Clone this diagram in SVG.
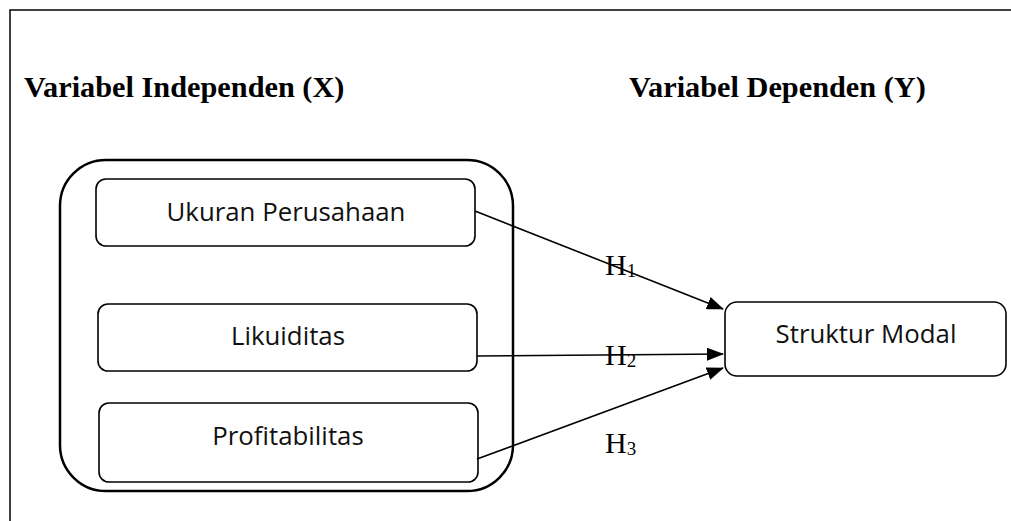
<svg xmlns="http://www.w3.org/2000/svg" width="1011" height="521" viewBox="0 0 1011 521">
  <defs>
    <marker id="arrow" markerWidth="17" markerHeight="13" refX="16" refY="6.5" orient="auto" markerUnits="userSpaceOnUse">
      <path d="M0,0 L17,6.5 L0,13 Z" fill="#000"/>
    </marker>
    <style>
      .frame { fill: none; stroke: #000; stroke-width: 1.5; }
      .heading { font-family: "Liberation Serif", "Times New Roman", serif; font-weight: bold; font-size: 30.3px; fill: #000; }
      .group { fill: #fff; stroke: #000; stroke-width: 2.5; }
      .box { fill: #fff; stroke: #000; stroke-width: 1.6; }
      .label { font-family: "Open Sans", "Noto Sans", sans-serif; font-size: 25.8px; fill: #111; text-anchor: middle; }
      .hyp { font-family: "Liberation Serif", "Times New Roman", serif; font-size: 30px; fill: #000; }
      .edge { stroke: #000; stroke-width: 1.6; fill: none; marker-end: url(#arrow); }
    </style>
  </defs>

  <rect width="1011" height="521" fill="#fff"/>

  <!-- page frame: top rule and left rule -->
  <path class="frame" d="M10,521 L10,10 L1011,10"/>

  <text class="heading" x="24" y="97">Variabel Independen (X)</text>
  <text class="heading" x="629" y="97">Variabel Dependen (Y)</text>

  <!-- independent variables container -->
  <g id="independen">
    <rect class="group" x="60" y="160" width="453" height="331" rx="46" ry="46"/>
  </g>

  <g id="ukuran">
    <rect class="box" x="96" y="179" width="379" height="67" rx="10" ry="10"/>
    <text class="label" x="286" y="221">Ukuran Perusahaan</text>
  </g>

  <g id="likuiditas">
    <rect class="box" x="98" y="304" width="379" height="67" rx="10" ry="10"/>
    <text class="label" x="288" y="345">Likuiditas</text>
  </g>

  <g id="profitabilitas">
    <rect class="box" x="99" y="403" width="379" height="79" rx="10" ry="10"/>
    <text class="label" x="288" y="445">Profitabilitas</text>
  </g>

  <g id="struktur">
    <rect class="box" x="725" y="302" width="281" height="74" rx="12" ry="12"/>
    <text class="label" x="866" y="343">Struktur Modal</text>
  </g>

  <!-- hypothesis paths -->
  <g id="connectors">
    <line class="edge" x1="475" y1="211" x2="723" y2="309"/>
    <line class="edge" x1="477" y1="356" x2="723" y2="354"/>
    <line class="edge" x1="477" y1="459" x2="723" y2="368"/>
  </g>

  <text class="hyp" x="605" y="275">H<tspan font-size="19" dy="2">1</tspan></text>
  <text class="hyp" x="605" y="365">H<tspan font-size="19" dy="2">2</tspan></text>
  <text class="hyp" x="605" y="453">H<tspan font-size="19" dy="2">3</tspan></text>
</svg>
